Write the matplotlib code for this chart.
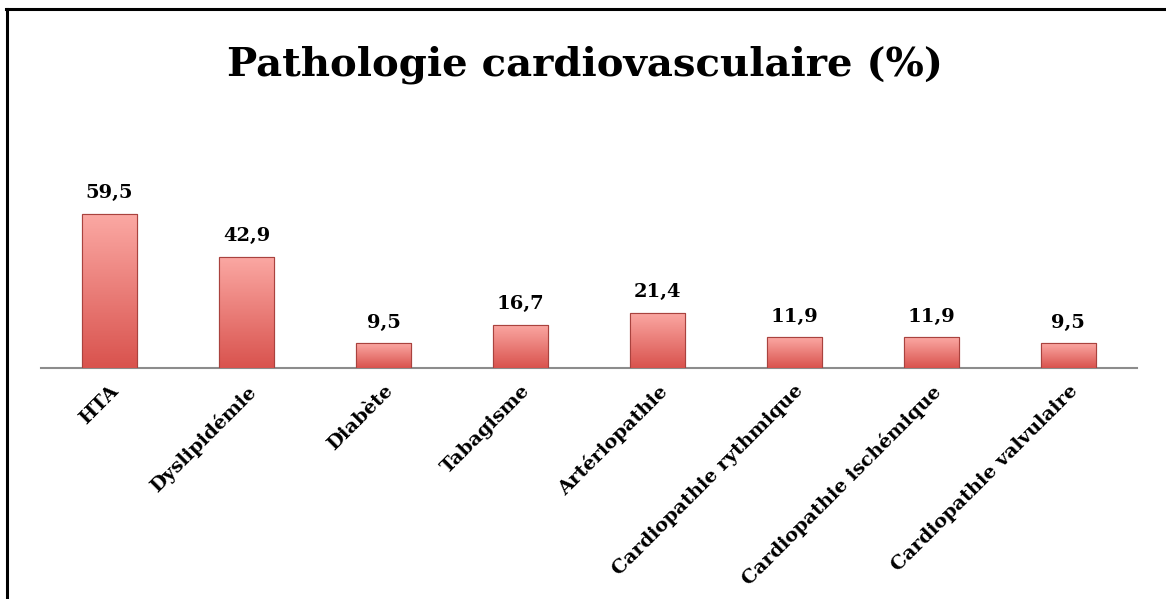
import numpy as np
import matplotlib
matplotlib.use("Agg")
import matplotlib.pyplot as plt
from matplotlib.colors import LinearSegmentedColormap
from matplotlib.lines import Line2D

categories = ["HTA", "Dyslipidémie", "Diabète", "Tabagisme", "Artériopathie",
              "Cardiopathie rythmique", "Cardiopathie ischémique", "Cardiopathie valvulaire"]
values = [59.5, 42.9, 9.5, 16.7, 21.4, 11.9, 11.9, 9.5]
value_labels = ["59,5", "42,9", "9,5", "16,7", "21,4", "11,9", "11,9", "9,5"]

font = "DejaVu Serif"

fig = plt.figure(figsize=(11.66, 5.99), dpi=100)
ax = fig.add_axes([0.0352, 0.3856, 0.9398, 0.3974])

x = np.arange(len(categories))
bars = ax.bar(x, values, width=0.4, color="#e8716c", edgecolor="#a9423e", linewidth=0.8, zorder=2)

# vertical gradient inside each bar
grad = LinearSegmentedColormap.from_list("g", ["#d9534e", "#fba8a3"])
for b in bars:
    x0, y0 = b.get_x(), b.get_y()
    w, h = b.get_width(), b.get_height()
    im = ax.imshow(np.linspace(0, 1, 100).reshape(-1, 1), cmap=grad, aspect="auto",
                   origin="lower", extent=[x0, x0 + w, y0, y0 + h], zorder=3)
    im.set_clip_path(b)
    ax.add_patch(plt.Rectangle((x0, y0), w, h, fill=False, edgecolor="#a9423e",
                               linewidth=0.8, zorder=4))

for xi, v, lab in zip(x, values, value_labels):
    ax.text(xi, v + 4.5, lab, ha="center", va="bottom", fontsize=14,
            fontweight="bold", family=font)

ax.set_xlim(-0.5, len(categories) - 0.5)
ax.set_ylim(0, 92)
ax.set_xticks(x)
ax.set_xticklabels(categories, rotation=45, ha="right", rotation_mode="anchor",
                   fontsize=14, fontweight="bold", family=font)
ax.tick_params(axis="x", length=0, pad=10)
ax.set_yticks([])
for s in ["top", "right", "left"]:
    ax.spines[s].set_visible(False)
ax.spines["bottom"].set_color("#8c8c8c")
ax.spines["bottom"].set_linewidth(1.5)
ax.set_autoscale_on(False)

fig.text(0.502, 0.892, "Pathologie cardiovasculaire (%)", ha="center", va="center",
         fontsize=29, fontweight="heavy", family=font)

# outer frame (left and top only visible)
fig.add_artist(Line2D([7 / 1166, 7 / 1166], [0, 1 - 9 / 599], transform=fig.transFigure,
                      color="black", linewidth=2.2))
fig.add_artist(Line2D([6 / 1166, 1], [1 - 9 / 599, 1 - 9 / 599], transform=fig.transFigure,
                      color="black", linewidth=2.2))

fig.savefig("out.png", dpi=100, facecolor="white")
